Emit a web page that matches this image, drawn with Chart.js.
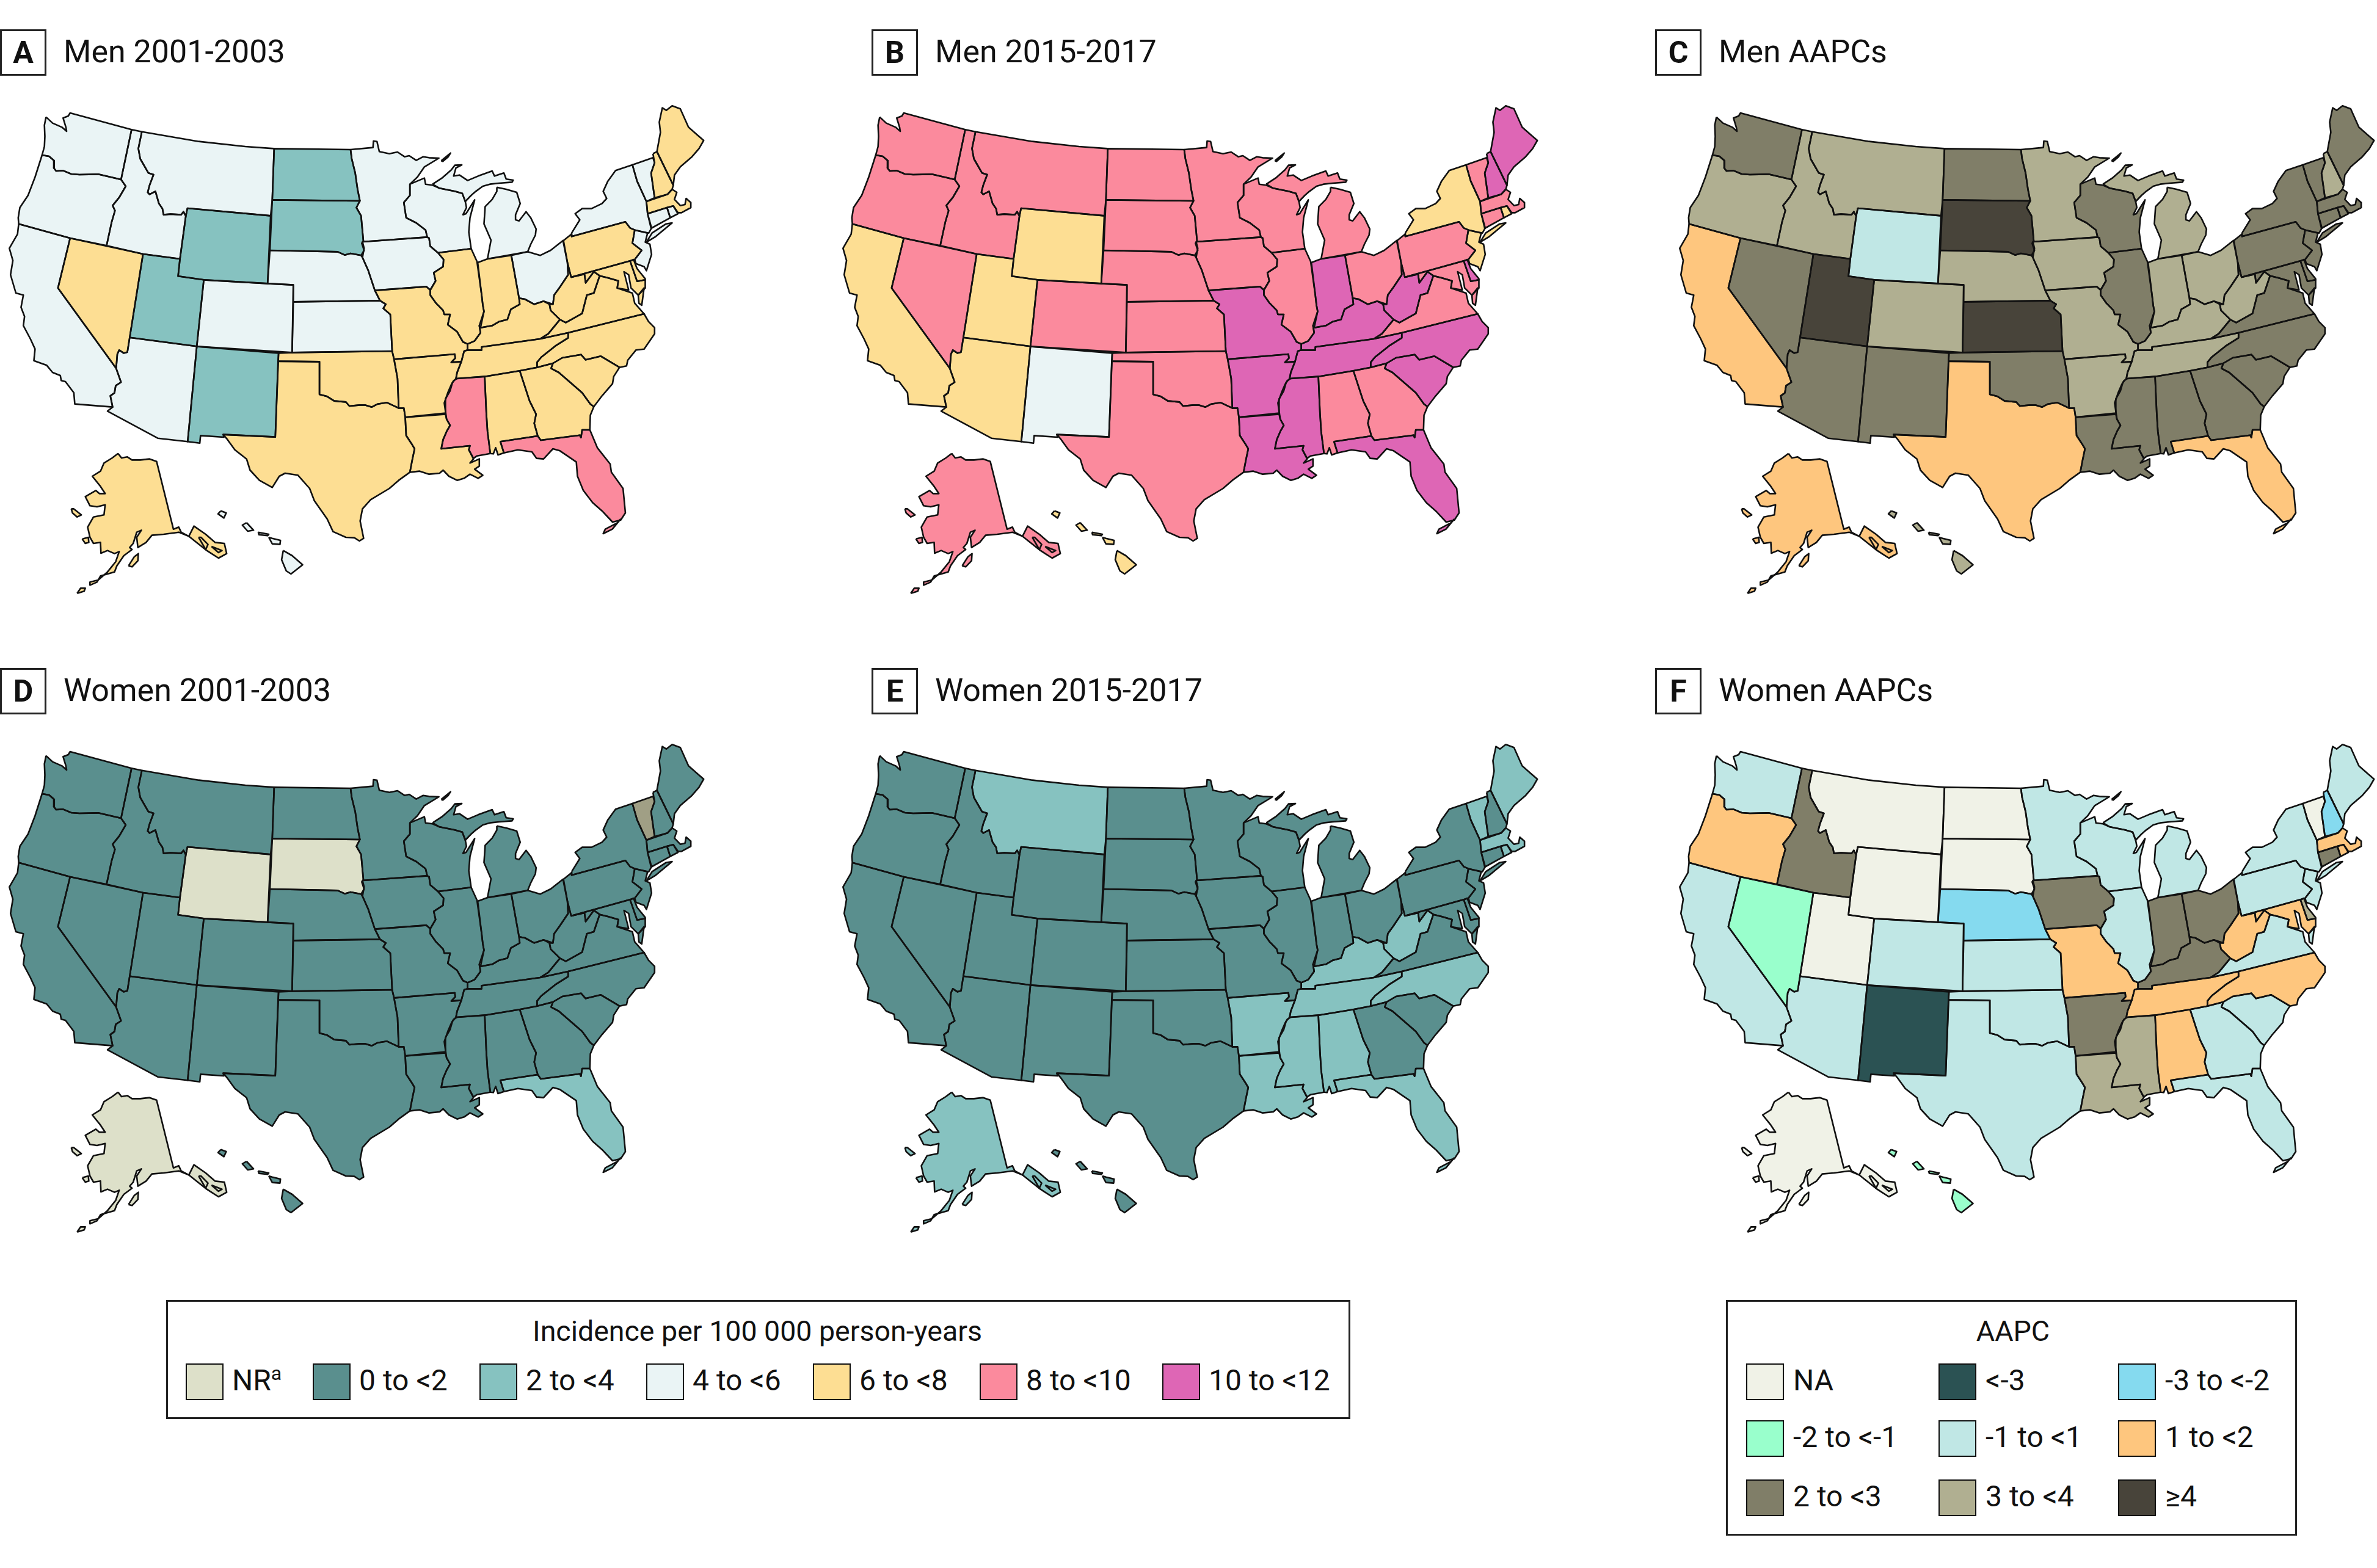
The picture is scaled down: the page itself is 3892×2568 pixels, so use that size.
<!DOCTYPE html>
<html>
<head>
<meta charset="utf-8">
<title>Incidence maps</title>
<script src="https://cdn.jsdelivr.net/npm/chart.js@4"></script>
<style>
    html, body { margin: 0; padding: 0; background: #fff; width: 3892px; height: 2568px; overflow: hidden; }
    body { position: relative; font-family: "Roboto", sans-serif; color: #111; }
    canvas { position: absolute; }
    .tag { position: absolute; width: 70px; height: 70px; border: 3px solid #222; background: #fff; text-align: center; font-weight: bold; font-size: 50px; line-height: 70px; }
    .title { position: absolute; font-size: 52px; line-height: 74px; white-space: nowrap; }
    .box { position: absolute; border: 3px solid #222; box-sizing: border-box; }
    .swatch { position: absolute; width: 58px; height: 56px; border: 2px solid #111; }
    .label { position: absolute; font-size: 48px; line-height: 60px; white-space: nowrap; }
    .label sup { font-size: 32px; line-height: 0; }
    .head { position: absolute; font-size: 46.5px; line-height: 60px; white-space: nowrap; transform: translateX(-50%); }
</style>
</head>
<body>
<script>
// state order used by every value array below
const states = ['AK','AL','AR','AZ','CA','CO','CT','DE','FL','GA','HI','IA','ID','IL','IN','KS','KY','LA','MA','MD','ME','MI','MN','MO','MS','MT','NC','ND','NE','NH','NJ','NM','NV','NY','OH','OK','OR','PA','RI','SC','SD','TN','TX','UT','VA','VT','WA','WI','WV','WY'];

const incidenceBins = ['NR', '0 to <2', '2 to <4', '4 to <6', '6 to <8', '8 to <10', '10 to <12'];
const aapcBins = ['NA', '<-3', '-3 to <-2', '-2 to <-1', '-1 to <1', '1 to <2', '2 to <3', '3 to <4', '≥4'];

// values are indexes into the bins above (7 = the darker Vermont shade in panel D)
const menEarly   = [4,4,4,3,3,3,3,4,5,4,3,3,3,4,4,3,4,4,4,4,4,3,3,4,5,3,4,2,3,4,3,2,4,3,3,4,3,4,3,4,2,4,4,2,4,3,3,3,4,2];
const menLate    = [5,5,6,4,4,5,5,6,6,5,4,5,5,5,6,5,6,6,5,5,6,5,5,6,6,5,6,5,5,6,4,3,5,4,5,5,5,5,4,6,5,6,5,4,5,5,5,5,6,4];
const menAapc    = [5,6,7,6,5,7,6,6,5,6,7,7,7,6,7,8,7,6,6,6,6,7,7,7,6,7,6,6,7,7,6,6,6,6,7,6,7,6,6,6,8,7,5,8,6,6,6,6,7,4];
const womenEarly = [0,1,1,1,1,1,1,1,2,1,1,1,1,1,1,1,1,1,1,1,1,1,1,1,1,1,1,1,1,1,1,1,1,1,1,1,1,1,1,1,0,1,1,1,1,7,1,1,1,0];
const womenLate  = [2,2,2,1,1,1,1,1,2,1,1,1,1,1,1,1,2,2,2,1,2,1,1,1,2,2,2,1,1,1,1,1,1,1,1,1,1,1,2,1,1,2,1,1,1,2,1,1,2,1];
const womenAapc  = [0,5,6,4,4,4,6,7,4,4,3,6,6,4,6,4,6,7,5,5,4,4,4,5,7,0,5,0,2,2,4,1,3,4,6,4,5,4,5,4,0,5,4,0,4,0,4,4,5,0];

const incidenceColors = ['#DDE0C9', '#5A8F8E', '#86C2C0', '#EAF4F5', '#FDDE93', '#FB8A9D', '#DE66B5', '#A09F85'];
const aapcColors = ['#F0F2E7', '#2B5253', '#85DAEF', '#99FFCC', '#C0E7E5', '#FEC67E', '#807E68', '#B0AF91', '#48443A'];

// state outlines, map units (one list per closed ring)
const outlines = {
    WA: [[[197,125],[225,155],[265,175],[285,195],[282,175],[270,130],[292,120],[300,105],[563,187],[518,432],[420,406],[340,408],[305,405],[270,388],[240,390],[230,375],[232,340],[210,318],[180,312],[190,270],[192,220],[190,165]]],
    OR: [[[180,312],[210,318],[232,340],[230,375],[240,390],[270,388],[305,405],[340,408],[420,406],[518,432],[538,465],[510,520],[482,560],[492,585],[478,640],[456,757],[300,720],[80,650],[78,620],[85,570],[120,510],[150,420]]],
    CA: [[[80,650],[300,720],[248,965],[497,1360],[518,1428],[495,1445],[490,1480],[472,1495],[482,1550],[320,1535],[316,1480],[280,1425],[262,1420],[258,1395],[225,1380],[200,1345],[145,1322],[150,1265],[130,1215],[100,1150],[105,1105],[90,1060],[100,1000],[68,990],[45,900],[55,830],[40,770],[75,700]]],
    NV: [[[300,720],[612,798],[555,1208],[545,1280],[530,1285],[510,1270],[502,1290],[497,1360],[248,965]]],
    ID: [[[563,187],[607,197],[592,280],[600,330],[635,400],[657,408],[640,460],[632,495],[640,505],[665,490],[680,550],[695,575],[700,605],[730,602],[775,605],[785,590],[795,612],[770,822],[612,798],[456,757],[478,640],[492,585],[482,560],[510,520],[538,465],[518,432]]],
    MT: [[[607,197],[850,245],[1050,270],[1173,280],[1165,532],[1158,610],[802,573],[795,612],[785,590],[775,605],[730,602],[700,605],[695,575],[680,550],[665,490],[640,505],[632,495],[640,460],[657,408],[635,400],[600,330],[592,280]]],
    WY: [[[802,573],[1158,610],[1145,943],[872,925],[762,907],[770,822],[795,612]]],
    UT: [[[612,798],[770,822],[762,907],[872,925],[842,1252],[555,1208]]],
    CO: [[[872,925],[1145,943],[1255,950],[1250,1282],[842,1252]]],
    ND: [[[1173,280],[1500,285],[1505,330],[1520,400],[1530,480],[1540,537],[1165,532]]],
    SD: [[[1165,532],[1540,537],[1525,570],[1545,610],[1555,735],[1548,745],[1558,780],[1545,805],[1500,795],[1475,803],[1445,787],[1155,780]]],
    NE: [[[1155,780],[1445,787],[1475,803],[1500,795],[1545,805],[1551,815],[1576,880],[1604,977],[1626,1027],[1255,1033],[1255,950],[1145,943]]],
    KS: [[[1255,1033],[1626,1027],[1651,1045],[1640,1065],[1670,1095],[1678,1275],[1250,1282]]],
    OK: [[[1192,1285],[1250,1282],[1678,1275],[1686,1315],[1701,1410],[1706,1555],[1656,1528],[1616,1535],[1591,1550],[1561,1540],[1540,1540],[1495,1545],[1480,1525],[1430,1520],[1400,1498],[1367,1488],[1367,1327],[1190,1325]]],
    TX: [[[1190,1325],[1367,1327],[1367,1488],[1400,1498],[1430,1520],[1480,1525],[1495,1545],[1540,1540],[1561,1540],[1591,1550],[1616,1535],[1656,1528],[1706,1555],[1728,1555],[1734,1600],[1738,1690],[1761,1730],[1774,1755],[1764,1810],[1754,1870],[1706,1910],[1666,1950],[1586,2005],[1551,2050],[1541,2110],[1556,2195],[1538,2208],[1516,2192],[1480,2190],[1425,2162],[1400,2100],[1345,2010],[1325,1950],[1275,1885],[1220,1875],[1195,1890],[1165,1945],[1110,1910],[1070,1860],[1055,1805],[1005,1760],[970,1705],[955,1685],[1178,1697]]],
    NM: [[[842,1252],[1192,1285],[1178,1697],[955,1685],[958,1698],[858,1690],[855,1727],[803,1720]]],
    AZ: [[[842,1252],[803,1720],[675,1703],[460,1570],[482,1550],[472,1495],[490,1480],[495,1445],[518,1428],[497,1360],[502,1290],[510,1270],[530,1285],[545,1280],[555,1208]]],
    MN: [[[1500,285],[1596,275],[1598,243],[1613,245],[1623,295],[1666,305],[1701,297],[1731,320],[1751,315],[1781,338],[1811,320],[1836,325],[1878,327],[1816,370],[1786,420],[1754,455],[1754,510],[1728,545],[1738,620],[1781,645],[1821,680],[1828,715],[1551,738],[1555,735],[1545,610],[1525,570],[1540,537],[1530,480],[1520,400],[1505,330]]],
    WI: [[[1754,455],[1816,425],[1821,455],[1851,460],[1881,475],[1946,490],[1978,500],[1991,540],[1996,570],[1981,605],[1994,600],[2031,532],[2011,620],[2006,690],[2016,772],[1874,792],[1841,760],[1836,720],[1828,715],[1821,680],[1781,645],[1738,620],[1728,545],[1754,510]]],
    MI: [[[1851,455],[1891,425],[1931,385],[1946,362],[1976,360],[1951,375],[1941,415],[1966,410],[2001,437],[2046,415],[2106,390],[2116,415],[2156,400],[2166,430],[2196,435],[2191,445],[2136,450],[2096,455],[2066,465],[2036,490],[2016,510],[1991,540],[1978,500],[1946,490],[1881,475]],
         [[2126,470],[2166,480],[2211,495],[2226,550],[2206,605],[2206,630],[2221,635],[2251,590],[2271,620],[2294,675],[2291,705],[2271,750],[2258,787],[2086,822],[2101,730],[2071,650],[2076,565],[2106,530],[2126,490]],
         [[1888,340],[1928,302],[1918,320],[1895,343]]],
    IA: [[[1551,738],[1828,715],[1836,720],[1841,760],[1874,792],[1898,825],[1896,860],[1856,890],[1864,930],[1841,975],[1824,958],[1604,977],[1576,880],[1551,815],[1558,770]]],
    MO: [[[1604,977],[1824,958],[1841,975],[1841,1000],[1866,1040],[1896,1075],[1901,1095],[1926,1095],[1916,1145],[1956,1180],[1981,1230],[2001,1240],[2001,1270],[1986,1275],[1974,1327],[1931,1330],[1948,1310],[1946,1290],[1686,1315],[1678,1275],[1670,1095],[1640,1065],[1651,1045],[1626,1027]]],
    IL: [[[1874,792],[2016,772],[2041,835],[2061,1000],[2066,1050],[2071,1080],[2051,1150],[2056,1185],[2031,1225],[2001,1240],[1981,1230],[1956,1180],[1916,1145],[1926,1095],[1901,1095],[1896,1075],[1866,1040],[1841,1000],[1841,975],[1864,930],[1856,890],[1896,860],[1898,825]]],
    IN: [[[2044,840],[2086,822],[2188,805],[2221,1015],[2224,1045],[2186,1070],[2171,1120],[2136,1130],[2106,1150],[2056,1160],[2071,1080],[2066,1050],[2061,1000]]],
    OH: [[[2188,805],[2258,787],[2311,805],[2356,780],[2409,732],[2428,840],[2431,900],[2396,960],[2371,1000],[2366,1045],[2326,1030],[2286,1045],[2246,1020],[2221,1015]]],
    KY: [[[2221,1015],[2246,1020],[2286,1045],[2326,1030],[2351,1045],[2356,1075],[2396,1120],[2346,1190],[2311,1215],[2061,1255],[2061,1270],[2001,1270],[2001,1240],[2031,1225],[2056,1185],[2051,1150],[2056,1160],[2106,1150],[2136,1130],[2171,1120],[2186,1070],[2224,1045]]],
    TN: [[[1986,1275],[2001,1270],[2061,1270],[2061,1255],[2311,1215],[2431,1185],[2431,1210],[2376,1250],[2316,1305],[2298,1330],[2298,1355],[2224,1372],[2074,1400],[1951,1410],[1956,1380],[1974,1327]]],
    AR: [[[1686,1315],[1946,1290],[1948,1310],[1931,1330],[1974,1327],[1956,1380],[1951,1410],[1936,1430],[1926,1470],[1906,1510],[1906,1580],[1734,1600],[1728,1555],[1706,1555],[1701,1410]]],
    LA: [[[1734,1600],[1906,1585],[1911,1610],[1926,1640],[1911,1670],[1896,1710],[1888,1755],[2011,1740],[2006,1760],[2026,1805],[2011,1825],[2051,1805],[2051,1840],[2031,1855],[2066,1885],[2046,1900],[2011,1880],[1986,1900],[1956,1910],[1921,1890],[1896,1860],[1881,1875],[1836,1880],[1796,1865],[1754,1870],[1764,1810],[1774,1755],[1761,1730],[1738,1690]]],
    MS: [[[1956,1410],[2074,1400],[2081,1580],[2086,1670],[2098,1778],[2041,1790],[2026,1802],[2006,1760],[2011,1740],[1888,1755],[1896,1710],[1911,1670],[1926,1640],[1911,1610],[1906,1570],[1901,1530],[1916,1480],[1931,1440],[1941,1420]]],
    AL: [[[2074,1400],[2224,1372],[2266,1520],[2294,1585],[2286,1630],[2301,1692],[2141,1720],[2156,1775],[2131,1785],[2121,1750],[2111,1780],[2098,1778],[2086,1670],[2081,1580]]],
    GA: [[[2224,1372],[2298,1355],[2366,1335],[2358,1360],[2391,1380],[2446,1435],[2491,1480],[2526,1535],[2541,1548],[2526,1590],[2524,1662],[2491,1662],[2486,1700],[2481,1688],[2314,1713],[2301,1692],[2286,1630],[2294,1585],[2266,1520]]],
    FL: [[[2141,1720],[2301,1692],[2314,1713],[2481,1688],[2486,1700],[2491,1662],[2524,1662],[2556,1750],[2611,1830],[2616,1870],[2666,1950],[2676,2070],[2656,2105],[2621,2115],[2576,2060],[2536,2020],[2496,1960],[2471,1890],[2466,1820],[2396,1765],[2366,1755],[2326,1805],[2296,1802],[2276,1770],[2216,1760],[2156,1775]],
         [[2656,2100],[2620,2150],[2581,2172],[2590,2150],[2640,2120]]],
    SC: [[[2358,1360],[2366,1335],[2406,1308],[2486,1292],[2506,1318],[2571,1300],[2651,1355],[2626,1400],[2621,1435],[2576,1495],[2541,1548],[2526,1535],[2491,1480],[2446,1435],[2391,1380]]],
    NC: [[[2431,1185],[2756,1092],[2775,1130],[2801,1160],[2801,1190],[2756,1265],[2721,1270],[2686,1320],[2681,1348],[2651,1355],[2571,1300],[2506,1318],[2486,1292],[2406,1308],[2366,1335],[2298,1355],[2298,1330],[2316,1305],[2376,1250],[2431,1210]]],
    VA: [[[2311,1215],[2346,1190],[2396,1120],[2421,1135],[2491,1090],[2511,1000],[2541,990],[2566,905],[2601,915],[2646,930],[2641,965],[2706,990],[2716,1040],[2756,1092],[2431,1185]],
         [[2731,1000],[2756,965],[2746,1050],[2734,1040]]],
    WV: [[[2428,840],[2444,912],[2501,897],[2506,940],[2541,885],[2566,905],[2541,990],[2511,1000],[2491,1090],[2421,1135],[2396,1120],[2356,1075],[2351,1045],[2366,1045],[2371,1000],[2396,960],[2431,900]]],
    MD: [[[2444,912],[2696,832],[2726,932],[2761,925],[2761,965],[2731,1000],[2700,965],[2690,900],[2670,885],[2690,975],[2641,965],[2646,930],[2601,915],[2566,905],[2541,885],[2506,940],[2501,897]]],
    DE: [[[2696,832],[2711,825],[2726,870],[2761,920],[2761,925],[2726,932]]],
    PA: [[[2411,732],[2446,700],[2446,712],[2676,640],[2696,670],[2716,680],[2706,745],[2746,780],[2716,825],[2696,832],[2444,912],[2428,840]]],
    NJ: [[[2716,680],[2771,695],[2761,740],[2781,750],[2788,800],[2766,880],[2756,860],[2721,845],[2716,825],[2746,780],[2706,745]]],
    NY: [[[2446,695],[2481,630],[2461,600],[2491,575],[2531,575],[2576,550],[2596,525],[2581,490],[2601,440],[2634,388],[2706,360],[2726,440],[2766,540],[2771,600],[2788,670],[2776,695],[2716,680],[2696,670],[2676,640],[2446,712]],
         [[2766,740],[2806,712],[2876,645],[2850,650],[2790,695]]],
    CT: [[[2771,600],[2854,570],[2868,620],[2786,672]]],
    RI: [[[2854,570],[2881,562],[2901,600],[2868,620]]],
    MA: [[[2766,540],[2856,505],[2876,480],[2896,495],[2886,530],[2911,560],[2931,555],[2936,525],[2956,545],[2956,570],[2916,595],[2901,595],[2881,562],[2854,570],[2771,600]]],
    VT: [[[2706,360],[2794,325],[2801,350],[2786,400],[2801,522],[2766,540],[2726,440]]],
    NH: [[[2794,305],[2811,295],[2881,460],[2876,480],[2856,505],[2801,522],[2786,400],[2801,350]]],
    ME: [[[2811,295],[2826,200],[2821,150],[2834,80],[2851,92],[2876,70],[2911,85],[2946,175],[2986,215],[3011,240],[2991,280],[2961,320],[2911,370],[2886,410],[2881,460]]],
    AK: [[[505,1778],[520,1800],[545,1795],[565,1810],[600,1810],[640,1805],[670,1817],[742,2150],[765,2140],[775,2165],[808,2185],[765,2165],[700,2175],[650,2180],[625,2215],[590,2240],[585,2190],[605,2155],[585,2165],[570,2220],[555,2240],[565,2250],[530,2280],[500,2330],[490,2360],[430,2380],[415,2410],[385,2425],[385,2410],[420,2400],[460,2360],[495,2310],[510,2260],[490,2270],[460,2255],[432,2268],[430,2215],[400,2220],[385,2190],[375,2140],[400,2090],[445,2080],[450,2030],[415,2040],[385,2035],[365,1990],[410,1960],[425,1975],[450,1975],[430,1940],[395,1890],[430,1865],[445,1825],[480,1800]],
         [[808,2185],[830,2135],[880,2175],[920,2215],[960,2220],[970,2270],[935,2292],[905,2270],[885,2255],[830,2205]],
         [[850,2190],[880,2250],[890,2225],[860,2190]],
         [[905,2235],[935,2265],[950,2255]],
         [[305,2050],[315,2050],[348,2080],[330,2090],[310,2070]],
         [[352,2198],[378,2190],[380,2215],[365,2220]],
         [[550,2330],[575,2285],[592,2270],[590,2305],[565,2335]],
         [[330,2465],[345,2440],[365,2440],[360,2455]]],
    HI: [[[1212,2255],[1250,2280],[1295,2325],[1245,2370],[1225,2355],[1205,2300]],
         [[1150,2190],[1165,2195],[1200,2205],[1198,2225],[1165,2222]],
         [[1105,2165],[1150,2175],[1145,2182],[1108,2177]],
         [[1055,2118],[1085,2155],[1060,2160],[1037,2130]],
         [[945,2060],[968,2070],[958,2095],[933,2075]]]
};

function addEl(cls, left, top, html) {
    let el = document.createElement('div');
    el.className = cls;
    el.style.left = left + 'px';
    el.style.top = top + 'px';
    if (html) el.innerHTML = html;
    document.body.appendChild(el);
    return el;
}

function drawMap(left, top, values, colors) {
    let canvas = document.createElement('canvas');
    canvas.width = 1170;
    canvas.height = 870;
    canvas.style.left = left + 'px';
    canvas.style.top = top + 'px';
    document.body.appendChild(canvas);

    let datasets = [];
    states.forEach(function (st, i) {
        outlines[st].forEach(function (ring) {
            let pts = ring.map(function (p) { return { x: p[0], y: p[1] }; });
            pts.push(pts[0]);
            datasets.push({
                label: st,
                data: pts,
                showLine: true,
                fill: 'shape',
                backgroundColor: colors[values[i]],
                borderColor: '#111',
                borderWidth: 2.6,
                borderJoinStyle: 'round',
                pointRadius: 0,
                tension: 0
            });
        });
    });

    new Chart(canvas, {
        type: 'scatter',
        data: { datasets: datasets },
        options: {
            responsive: false,
            animation: false,
            events: [],
            layout: { padding: 0 },
            plugins: {
                legend: { display: false },
                tooltip: { enabled: false },
                filler: { drawTime: 'beforeDatasetsDraw' }
            },
            scales: {
                x: { type: 'linear', display: false, min: 0, max: 3057.6 },
                y: { type: 'linear', display: false, reverse: true, min: 0, max: 2610 }
            }
        }
    });
}

const panelTitles = ['Men 2001-2003', 'Men 2015-2017', 'Men AAPCs', 'Women 2001-2003', 'Women 2015-2017', 'Women AAPCs'];
const panelValues = [menEarly, menLate, menAapc, womenEarly, womenLate, womenAapc];
const panelColors = [incidenceColors, incidenceColors, aapcColors, incidenceColors, incidenceColors, aapcColors];

panelTitles.forEach(function (title, i) {
    let col = i % 3, row = Math.floor(i / 3);
    let tagLeft = [0, 1427, 2710][col];
    let mapLeft = [0, 1365, 2735][col];
    let dy = row * 1046;
    drawMap(mapLeft, 150 + dy, panelValues[i], panelColors[i]);
    addEl('tag', tagLeft, 48 + dy, 'ABCDEF'[i]);
    addEl('title', tagLeft + 104, 48 + dy, title);
});

// incidence legend
let boxA = addEl('box', 272, 2129);
boxA.style.width = '1939px';
boxA.style.height = '195px';
addEl('head', 1240, 2150, 'Incidence per 100 000 person-years');
const incSwatchX = [304, 512, 785, 1058, 1331, 1604, 1903];
incidenceBins.forEach(function (name, i) {
    let sw = addEl('swatch', incSwatchX[i], 2233);
    sw.style.background = incidenceColors[i];
    addEl('label', incSwatchX[i] + 76, 2231, i === 0 ? 'NR<sup>a</sup>' : name.replace('<', '&lt;'));
});

// AAPC legend
let boxB = addEl('box', 2826, 2129);
boxB.style.width = '935px';
boxB.style.height = '386px';
addEl('head', 3296, 2150, 'AAPC');
const aapcX = [2859, 3174, 3468];
const aapcY = [2233, 2326, 2423];
aapcBins.forEach(function (name, i) {
    let x = aapcX[i % 3], y = aapcY[Math.floor(i / 3)];
    let sw = addEl('swatch', x, y);
    sw.style.background = aapcColors[i];
    addEl('label', x + 77, y - 2, name.replace('<', '&lt;'));
});
</script>
</body>
</html>
